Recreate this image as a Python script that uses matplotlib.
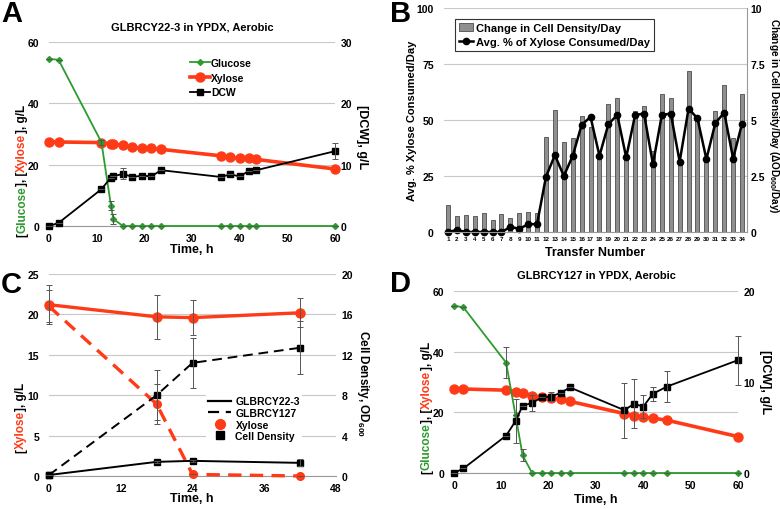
import matplotlib
matplotlib.use('Agg')
import matplotlib.pyplot as plt
from matplotlib.lines import Line2D
from matplotlib.patches import Patch
from matplotlib.transforms import IdentityTransform

plt.rcParams['font.family'] = ['Liberation Sans', 'DejaVu Sans']
plt.rcParams['font.weight'] = 'bold'
plt.rcParams['axes.labelweight'] = 'bold'
plt.rcParams['mathtext.default'] = 'regular'

GREEN = '#2e9b2e'
RED = '#ff3a17'
ERR = '#555555'

# --- panel A: GLBRCY22-3 in YPDX ---
a_time = [0, 2, 11, 13, 13.5, 15.5, 17.5, 19.5, 21.5, 23.5, 36, 38, 40, 42, 43.5, 60]
a_glucose = [54.5, 54.2, 27.3, 6.6, 2.3, 0, 0, 0, 0, 0, 0, 0, 0, 0, 0, 0]
a_glucose_err = [0, 0, 0.8, 1.5, 1.5, 0, 0, 0, 0, 0, 0, 0, 0, 0, 0, 0]
a_xylose = [27.5, 27.4, 27.2, 26.8, 26.7, 26.3, 25.7, 25.3, 25.3, 25.0, 22.9, 22.4, 22.1, 22.2, 21.7, 18.6]
a_dcw = [0, 0.5, 6.0, 7.9, 8.1, 8.5, 8.0, 8.2, 8.1, 9.1, 8.0, 8.4, 8.1, 9.0, 9.1, 12.2]
a_dcw_err = [0, 0, 0, 0, 0, 0.9, 0, 0, 0, 0, 0, 0, 0, 0, 0, 1.3]

# --- panel B: serial transfers ---
transfer = list(range(1, 35))
cell_density_day = [1.19, 0.71, 0.76, 0.71, 0.83, 0.52, 0.82, 0.64, 0.83, 0.91, 0.83,
                    4.22, 5.45, 4.03, 4.18, 5.19, 4.67, 3.4, 5.7, 6.0, 3.3, 5.41,
                    5.63, 3.63, 6.18, 5.96, 3.1, 7.19, 5.11, 3.2, 5.38, 6.57, 4.19, 6.18]
xylose_pct_day = [0, 0.9, 0, 0, 0, 0, 0, 2.2, 1.5, 3.4, 3.6,
                  24.7, 34.3, 25.0, 34.0, 47.8, 51.4, 34.0, 48.1, 52.3, 33.3, 52.2,
                  52.9, 30.3, 52.2, 52.9, 31.4, 55.1, 50.7, 32.5, 48.6, 53.3, 32.8, 48.4]

# --- panel C: anaerobic xylose ---
c_time = [0, 18, 24, 42]
c_xyl_223 = [21.2, 19.7, 19.6, 20.2]
c_xyl_223_err = [2.4, 2.7, 2.2, 1.8]
c_xyl_127 = [21.0, 8.9, 0.2, 0.0]
c_xyl_127_err = [2.0, 2.5, 0, 0]
c_od_223 = [0.1, 1.4, 1.5, 1.3]
c_od_223_err = [0, 0.1, 0.1, 0.35]
c_od_127 = [0.1, 8.0, 11.2, 12.7]
c_od_127_err = [0, 2.5, 2.5, 2.6]

# --- panel D: GLBRCY127 in YPDX ---
d_time = [0, 2, 11, 13, 14.5, 16.5, 18.5, 20.5, 22.5, 24.5, 36, 38, 40, 42, 45, 60]
d_glucose = [55.2, 54.6, 36.4, 19.0, 5.8, 0, 0, 0, 0, 0, 0, 0, 0, 0, 0, 0]
d_glucose_err = [0, 0, 5.2, 0, 2.0, 0, 0, 0, 0, 0, 0, 0, 0, 0, 0, 0]
d_xylose = [27.8, 27.7, 27.3, 26.8, 26.3, 25.5, 25.0, 24.7, 24.3, 23.6, 19.6, 18.9, 18.3, 18.1, 17.4, 12.0]
d_dcw = [0, 0.5, 4.1, 5.7, 7.4, 7.7, 8.3, 8.4, 8.8, 9.4, 6.9, 7.6, 7.3, 8.7, 9.5, 12.4]
d_dcw_err = [0, 0, 0, 2.4, 0, 0.9, 0, 0.5, 0, 0, 3.0, 2.7, 1.3, 0.8, 1.7, 2.7]

W, H = 780, 510
fig = plt.figure(figsize=(W / 100, H / 100), dpi=100)


def px_axes(left, top, right, bottom):
    return fig.add_axes([left / W, 1 - bottom / H, (right - left) / W, (bottom - top) / H])


def style(ax, ax2, size=7.5):
    for a in (ax, ax2):
        for s in ('top', 'left', 'right'):
            a.spines[s].set_visible(False)
        a.tick_params(length=0, labelsize=size)
    ax.tick_params(axis='y', pad=7)
    ax2.tick_params(axis='y', pad=4)
    ax.tick_params(axis='x', pad=5)
    ax.spines['bottom'].set_color('#999999')
    ax2.spines['bottom'].set_visible(False)


def put(x, y, s, **kw):
    fig.text(x / W, 1 - y / H, s, **kw)


def stacked_label(x, yc, parts, size=8.5):
    # a vertical label whose pieces have their own colours
    r = fig.canvas.get_renderer()
    items = [fig.text(0, 0, s, color=c, rotation=90, fontsize=size, ha='center',
                      va='bottom', transform=IdentityTransform()) for s, c in parts]
    heights = [t.get_window_extent(r).height for t in items]
    y = (H - yc) - sum(heights) / 2
    for t, h in zip(items, heights):
        t.set_position((x, y))
        y += h


def errs(ax, x, y, e):
    ax.errorbar(x, y, yerr=e, fmt='none', ecolor=ERR, elinewidth=0.7,
                capsize=2, capthick=0.7, zorder=6, clip_on=False)


def sugar_panel(ax, ax2, t, glc, glc_err, xyl, dcw, dcw_err):
    ax.grid(axis='y', color='#c8c8c8', lw=0.8)
    ax.set_axisbelow(True)
    ax.plot(t, glc, color=GREEN, lw=1.3, marker='D', ms=3, zorder=4, clip_on=False, label='Glucose')
    errs(ax, t, glc, glc_err)
    ax.plot(t, xyl, color=RED, lw=2.6, marker='o', ms=6.5, zorder=3, clip_on=False, label='Xylose')
    ax2.plot(t, dcw, color='k', lw=1.3, marker='s', ms=4.5, zorder=4, clip_on=False, label='DCW')
    errs(ax2, t, dcw, dcw_err)
    ax.set_xlim(0, 60)
    ax.set_xticks(range(0, 61, 10))


# Panel A
axA = px_axes(49, 43, 335, 227)
axA2 = axA.twinx()
style(axA, axA2)
sugar_panel(axA, axA2, a_time, a_glucose, a_glucose_err, a_xylose, a_dcw, a_dcw_err)
axA.set_ylim(0, 60)
axA.set_yticks([0, 20, 40, 60])
axA2.set_ylim(0, 30)
axA2.set_yticks([0, 10, 20, 30])
hA = [Line2D([], [], color=GREEN, lw=1.3, marker='D', ms=3),
      Line2D([], [], color=RED, lw=2.6, marker='o', ms=6.5),
      Line2D([], [], color='k', lw=1.3, marker='s', ms=4.5)]
axA.legend(hA, ['Glucose', 'Xylose', 'DCW'], loc='upper left', bbox_to_anchor=(0.46, 0.965),
           frameon=False, fontsize=7.5, handlelength=1.9, handletextpad=0.1, labelspacing=0.45)
put(192, 27, 'GLBRCY22-3 in YPDX, Aerobic', fontsize=8, ha='center', va='center')
put(192, 250, 'Time, h', fontsize=9, ha='center', va='center')
stacked_label(22, 171, [('[', 'k'), ('Glucose', GREEN), ('], [', 'k'), ('Xylose', RED), ('], g/L', 'k')])
put(362, 137, '[DCW], g/L', fontsize=9, rotation=270, ha='center', va='center')

# Panel B
axB = px_axes(443.5, 9, 746.5, 233)
axB2 = axB.twinx()
style(axB, axB2)
axB.set_zorder(axB2.get_zorder() + 1)
axB.patch.set_visible(False)
axB2.patch.set_visible(True)
axB2.patch.set_facecolor('white')
axB2.grid(axis='y', color='#c8c8c8', lw=0.8)
axB2.set_axisbelow(True)
axB2.spines['right'].set_visible(True)
axB2.spines['right'].set_color('#999999')
axB2.bar(transfer, cell_density_day, width=0.45, color='#8f8f8f', edgecolor='#4d4d4d', lw=0.6)
axB.plot(transfer, xylose_pct_day, color='k', lw=1.8, marker='o', ms=4.5, clip_on=False)
axB.set_xlim(0.5, 34.5)
axB.set_xticks(transfer)
axB.tick_params(axis='x', labelsize=4.5, pad=3)
axB.set_ylim(0, 100)
axB.set_yticks([0, 25, 50, 75, 100])
axB2.set_ylim(0, 10)
axB2.set_yticks([0, 2.5, 5, 7.5, 10])
axB2.set_yticklabels(['0', '2.5', '5', '7.5', '10'])
axB2.tick_params(axis='y', pad=3)
hB = [Patch(facecolor='#8f8f8f', edgecolor='#4d4d4d', lw=0.6),
      Line2D([], [], color='k', lw=1.8, marker='o', ms=4.5)]
legB = axB.legend(hB, ['Change in Cell Density/Day', 'Avg. % of Xylose Consumed/Day'],
                  loc='upper left', bbox_to_anchor=(0.02, 0.975), fontsize=8,
                  handlelength=1.3, handletextpad=0.2, borderpad=0.35, labelspacing=0.35,
                  fancybox=False, framealpha=1)
legB.get_frame().set_edgecolor('#333333')
legB.get_frame().set_linewidth(0.8)
put(595, 253, 'Transfer Number', fontsize=9, ha='center', va='center')
put(412, 121, 'Avg. % Xylose Consumed/Day', fontsize=8, rotation=90, ha='center', va='center')
put(774, 116, 'Change in Cell Density/Day ($\\Delta$OD$_{600}$/Day)', fontsize=7.2,
    rotation=270, ha='center', va='center')

# Panel C
axC = px_axes(49, 275, 336, 477)
axC2 = axC.twinx()
style(axC, axC2)
axC.grid(axis='y', color='#c8c8c8', lw=0.8)
axC.set_axisbelow(True)
axC.plot(c_time, c_xyl_223, color=RED, lw=2.4, marker='o', ms=6.5, clip_on=False, zorder=3)
errs(axC, c_time, c_xyl_223, c_xyl_223_err)
axC.plot(c_time, c_xyl_127, color=RED, lw=2.4, ls=(0, (4, 2.5)), marker='o', ms=5.5,
         clip_on=False, zorder=3)
errs(axC, c_time, c_xyl_127, c_xyl_127_err)
axC2.plot(c_time, c_od_223, color='k', lw=1.4, marker='s', ms=5, clip_on=False)
errs(axC2, c_time, c_od_223, c_od_223_err)
axC2.plot(c_time, c_od_127, color='k', lw=1.4, ls=(0, (5, 3)), marker='s', ms=5, clip_on=False)
errs(axC2, c_time, c_od_127, c_od_127_err)
axC.set_xlim(0, 48)
axC.set_xticks([0, 12, 24, 36, 48])
axC.set_ylim(0, 25)
axC.set_yticks([0, 5, 10, 15, 20, 25])
axC2.set_ylim(0, 20)
axC2.set_yticks([0, 4, 8, 12, 16, 20])
hC = [Line2D([], [], color='k', lw=1.6),
      Line2D([], [], color='k', lw=1.6, ls=(0, (5, 3))),
      Line2D([], [], color=RED, lw=0, marker='o', ms=7),
      Line2D([], [], color='k', lw=0, marker='s', ms=6)]
legC = axC2.legend(hC, ['GLBRCY22-3', 'GLBRCY127', 'Xylose', 'Cell Density'], loc='upper left',
                   bbox_to_anchor=(0.53, 0.43), fontsize=7.5, handlelength=2.2, handletextpad=0.4,
                   labelspacing=0.15, borderpad=0.2, fancybox=False, framealpha=1)
legC.get_frame().set_edgecolor('none')
put(192, 499, 'Time, h', fontsize=9, ha='center', va='center')
stacked_label(21, 418, [('[', 'k'), ('Xylose', RED), ('], g/L', 'k')])
put(363, 383, 'Cell Density, OD$_{600}$', fontsize=8.5, rotation=270, ha='center', va='center')

# Panel D
axD = px_axes(454, 292, 738, 474)
axD2 = axD.twinx()
style(axD, axD2)
sugar_panel(axD, axD2, d_time, d_glucose, d_glucose_err, d_xylose, d_dcw, d_dcw_err)
axD.set_ylim(0, 60)
axD.set_yticks([0, 20, 40, 60])
axD2.set_ylim(0, 20)
axD2.set_yticks([0, 10, 20])
put(596, 276, 'GLBRCY127 in YPDX, Aerobic', fontsize=8, ha='center', va='center')
put(596, 500, 'Time, h', fontsize=9, ha='center', va='center')
stacked_label(427, 408, [('[', 'k'), ('Glucose', GREEN), ('], [', 'k'), ('Xylose', RED), ('], g/L', 'k')])
put(765, 382, '[DCW], g/L', fontsize=9, rotation=270, ha='center', va='center')

# panel letters
for letter, x, y in [('A', 1, 22), ('B', 390, 22), ('C', 1, 293), ('D', 390, 292)]:
    put(x, y, letter, fontsize=21, ha='left', va='baseline')

fig.savefig('out.png', dpi=100, facecolor='white')
